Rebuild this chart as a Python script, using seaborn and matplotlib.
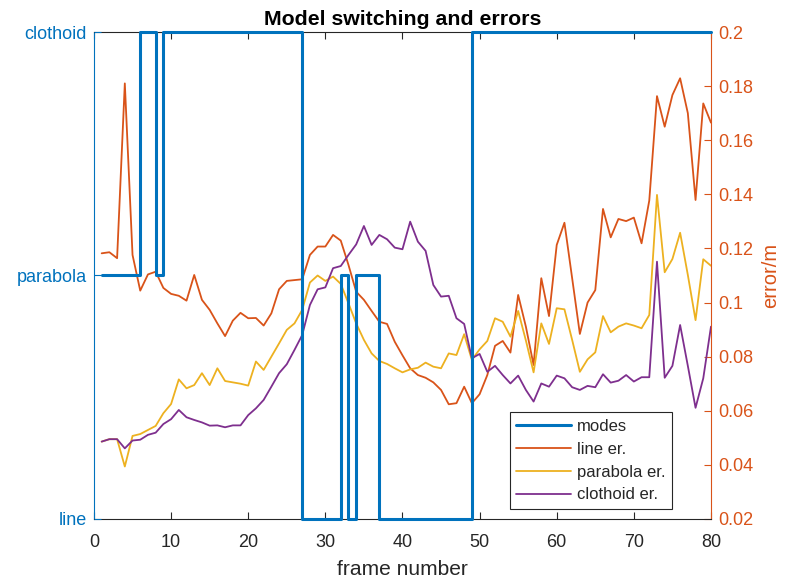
import matplotlib
matplotlib.use("Agg")
import matplotlib.pyplot as plt
import seaborn as sns
import pandas as pd
from matplotlib.lines import Line2D

# ---- data -------------------------------------------------------------
frames = list(range(1, 81))

mode_levels = ["line", "parabola", "clothoid"]

modes = [
    "parabola", "parabola", "parabola", "parabola", "parabola", "clothoid", "clothoid", "parabola", "clothoid", "clothoid",
    "clothoid", "clothoid", "clothoid", "clothoid", "clothoid", "clothoid", "clothoid", "clothoid", "clothoid", "clothoid",
    "clothoid", "clothoid", "clothoid", "clothoid", "clothoid", "clothoid", "line", "line", "line", "line",
    "line", "parabola", "line", "parabola", "parabola", "parabola", "line", "line", "line", "line",
    "line", "line", "line", "line", "line", "line", "line", "line", "clothoid", "clothoid",
    "clothoid", "clothoid", "clothoid", "clothoid", "clothoid", "clothoid", "clothoid", "clothoid", "clothoid", "clothoid",
    "clothoid", "clothoid", "clothoid", "clothoid", "clothoid", "clothoid", "clothoid", "clothoid", "clothoid", "clothoid",
    "clothoid", "clothoid", "clothoid", "clothoid", "clothoid", "clothoid", "clothoid", "clothoid", "clothoid", "clothoid",
]

line_err = [
    0.1182, 0.1186, 0.1164, 0.1810, 0.1176, 0.1044, 0.1104, 0.1114, 0.1054, 0.1032,
    0.1025, 0.1007, 0.1102, 0.1010, 0.0973, 0.0923, 0.0876, 0.0933, 0.0962, 0.0942,
    0.0943, 0.0915, 0.0960, 0.1049, 0.1080, 0.1083, 0.1086, 0.1176, 0.1207, 0.1207,
    0.1250, 0.1229, 0.1139, 0.1040, 0.1010, 0.0969, 0.0929, 0.0921, 0.0855, 0.0805,
    0.0757, 0.0732, 0.0722, 0.0705, 0.0677, 0.0624, 0.0628, 0.0689, 0.0628, 0.0661,
    0.0732, 0.0840, 0.0858, 0.0815, 0.1028, 0.0911, 0.0769, 0.1090, 0.0950, 0.1213,
    0.1295, 0.1090, 0.0884, 0.1000, 0.1046, 0.1346, 0.1241, 0.1309, 0.1301, 0.1314,
    0.1219, 0.1377, 0.1763, 0.1650, 0.1767, 0.1829, 0.1700, 0.1379, 0.1736, 0.1665,
]

parabola_err = [
    0.0486, 0.0495, 0.0495, 0.0394, 0.0507, 0.0514, 0.0529, 0.0544, 0.0591, 0.0625,
    0.0716, 0.0683, 0.0695, 0.0739, 0.0695, 0.0757, 0.0710, 0.0705, 0.0700, 0.0693,
    0.0782, 0.0751, 0.0800, 0.0849, 0.0899, 0.0923, 0.0973, 0.1074, 0.1100, 0.1080,
    0.1096, 0.1069, 0.0997, 0.0923, 0.0862, 0.0812, 0.0784, 0.0773, 0.0757, 0.0742,
    0.0753, 0.0759, 0.0778, 0.0763, 0.0757, 0.0812, 0.0806, 0.0883, 0.0788, 0.0827,
    0.0858, 0.0942, 0.0929, 0.0874, 0.0969, 0.0860, 0.0742, 0.0923, 0.0847, 0.0979,
    0.0975, 0.0862, 0.0744, 0.0790, 0.0816, 0.0950, 0.0890, 0.0911, 0.0923, 0.0915,
    0.0905, 0.0954, 0.1398, 0.1112, 0.1161, 0.1258, 0.1102, 0.0935, 0.1160, 0.1136,
]

clothoid_err = [
    0.0486, 0.0495, 0.0495, 0.0461, 0.0490, 0.0493, 0.0511, 0.0519, 0.0551, 0.0569,
    0.0603, 0.0576, 0.0566, 0.0557, 0.0545, 0.0546, 0.0539, 0.0546, 0.0546, 0.0584,
    0.0609, 0.0640, 0.0689, 0.0739, 0.0772, 0.0825, 0.0880, 0.0991, 0.1049, 0.1056,
    0.1127, 0.1135, 0.1176, 0.1215, 0.1283, 0.1213, 0.1250, 0.1234, 0.1203, 0.1197,
    0.1299, 0.1225, 0.1191, 0.1065, 0.1022, 0.1025, 0.0942, 0.0921, 0.0794, 0.0810,
    0.0744, 0.0766, 0.0732, 0.0701, 0.0730, 0.0677, 0.0634, 0.0701, 0.0689, 0.0730,
    0.0720, 0.0687, 0.0677, 0.0692, 0.0687, 0.0735, 0.0704, 0.0711, 0.0732, 0.0708,
    0.0724, 0.0724, 0.1151, 0.0722, 0.0766, 0.0917, 0.0766, 0.0611, 0.0720, 0.0911,
]

err_ticks = [0.02, 0.04, 0.06, 0.08, 0.1, 0.12, 0.14, 0.16, 0.18, 0.2]
err_tick_labels = ["0.02", "0.04", "0.06", "0.08", "0.1", "0.12", "0.14", "0.16", "0.18", "0.2"]
x_ticks = [0, 10, 20, 30, 40, 50, 60, 70, 80]

# ---- styling ----------------------------------------------------------
sns.set_style("white")
plt.rcParams["font.family"] = ["Liberation Sans", "DejaVu Sans"]

BLUE = "#0072BD"
ORANGE = "#D95319"
YELLOW = "#EDB120"
PURPLE = "#7E2F8E"
DARK = "#262626"

mode_df = pd.DataFrame({
    "frame": frames,
    "mode": [mode_levels.index(m) + 1 for m in modes],
})
err_df = pd.DataFrame({
    "frame": frames,
    "line": line_err,
    "parabola": parabola_err,
    "clothoid": clothoid_err,
})

fig = plt.figure(figsize=(7.85, 5.83), dpi=100)
ax2 = fig.add_axes([0.1197, 0.1098, 0.7860, 0.8353])   # right axis: errors
ax = ax2.twinx()                                       # mode staircase on top
ax.yaxis.tick_left()
ax.yaxis.set_label_position("left")
ax2.yaxis.tick_right()
ax2.yaxis.set_label_position("right")

# per-model fitting errors
for col, c in [("line", ORANGE), ("parabola", YELLOW), ("clothoid", PURPLE)]:
    sns.lineplot(data=err_df, x="frame", y=col, ax=ax2, color=c, linewidth=1.3,
                 legend=False)

# model selected at each frame, drawn as a staircase
sns.lineplot(data=mode_df, x="frame", y="mode", ax=ax, color=BLUE, linewidth=2.2,
             drawstyle="steps-post", clip_on=False, legend=False, zorder=3)

ax.set_xlim(0, 80)
ax2.set_xlim(0, 80)
ax.set_ylim(1, 3)
ax2.set_ylim(0.02, 0.2)

ax2.set_xticks(x_ticks)
ax2.set_xticklabels([str(t) for t in x_ticks])
ax.set_yticks([1, 2, 3])
ax.set_yticklabels(mode_levels)
ax2.set_yticks(err_ticks)
ax2.set_yticklabels(err_tick_labels)

ax2.set_xlabel("frame number", fontsize=15.1, color=DARK, labelpad=6)
ax.set_xlabel("")
ax.set_ylabel("")
ax2.set_ylabel("error/m", fontsize=14.5, color=ORANGE, labelpad=6)
ax.set_title("Model switching and errors", fontsize=15.3, fontweight="bold",
             color="black", pad=5)

ax2.tick_params(axis="x", direction="in", length=5, width=0.8, colors=DARK,
                labelsize=13, top=True, bottom=True, pad=11)
ax.tick_params(axis="x", which="both", bottom=False, top=False,
               labelbottom=False, labeltop=False)
ax.tick_params(axis="y", direction="in", length=5, width=0.8, colors=BLUE,
               labelsize=13, left=True, right=False, labelleft=True,
               labelright=False, pad=5)
ax2.tick_params(axis="y", direction="in", length=5, width=0.8, colors=ORANGE,
                labelsize=13, left=False, right=True, labelleft=False,
                labelright=True, pad=5)

for s in ax2.spines.values():
    s.set_linewidth(0.8)
ax2.spines["top"].set_color(DARK)
ax2.spines["bottom"].set_color(DARK)
ax2.spines["left"].set_color(BLUE)
ax2.spines["right"].set_color(ORANGE)
for s in ax.spines.values():
    s.set_visible(False)
ax.patch.set_visible(False)

handles = [
    Line2D([], [], color=BLUE, linewidth=2.2),
    Line2D([], [], color=ORANGE, linewidth=1.3),
    Line2D([], [], color=YELLOW, linewidth=1.3),
    Line2D([], [], color=PURPLE, linewidth=1.3),
]
leg = ax.legend(handles, ["modes", "line er.", "parabola er.", "clothoid er."],
                loc="lower left", bbox_to_anchor=(0.674, 0.0205), borderaxespad=0,
                fontsize=12, frameon=True, fancybox=False, framealpha=1,
                edgecolor=DARK, handlelength=3.3, handletextpad=0.35,
                labelspacing=0.47, borderpad=0.4)
leg.get_frame().set_linewidth(0.8)
leg.set_zorder(5)

fig.savefig("out.png", dpi=100)
